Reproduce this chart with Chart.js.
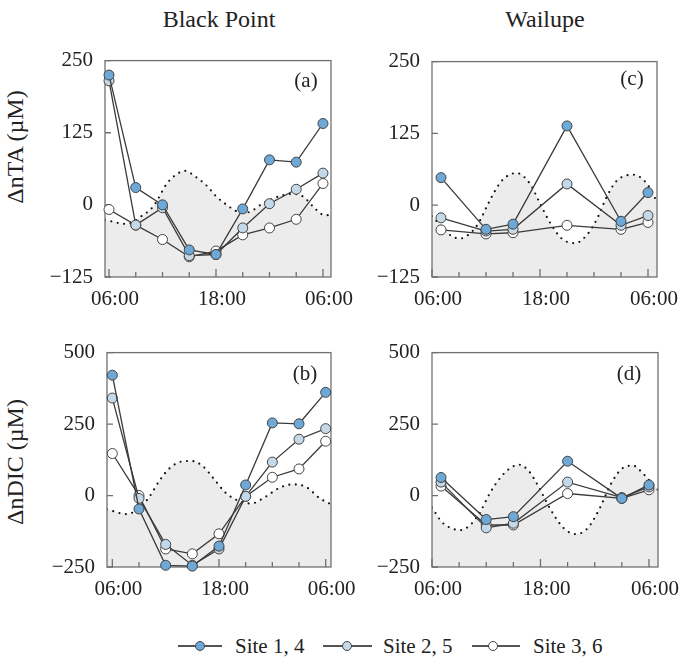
<!DOCTYPE html>
<html>
<head>
<meta charset="utf-8">
<script src="https://cdn.jsdelivr.net/npm/chart.js@4.4.1/dist/chart.umd.min.js"></script>
<style>
  html, body { margin: 0; padding: 0; background: #fff; overflow: hidden; }
  body { width: 680px; height: 661px; position: relative; font-family: "Liberation Serif", "Times New Roman", serif; color: #222; }
  canvas { position: absolute; }
  .txt { position: absolute; white-space: nowrap; transform: translate(-50%, -50%); }
  .ytitle { position: absolute; white-space: nowrap; transform: translate(-50%, -50%) rotate(-90deg); font-size: 24px; }
  .lg-line { position: absolute; height: 1.5px; background: #555; }
  .lg-dot { position: absolute; width: 8px; height: 8px; border: 1px solid #444; border-radius: 50%; }
  .lg-txt { position: absolute; font-size: 21px; transform: translateY(-50%); white-space: nowrap; }
</style>
</head>
<body>
<canvas id="pa" width="323" height="281" style="left:40px;top:36px"></canvas>
<canvas id="pb" width="321" height="279" style="left:42px;top:328px"></canvas>
<canvas id="pc" width="322" height="280" style="left:367px;top:37px"></canvas>
<canvas id="pd" width="323" height="279" style="left:367px;top:328px"></canvas>

<div class="txt" style="left:219px;top:19px;font-size:24px">Black Point</div>
<div class="txt" style="left:545px;top:19px;font-size:24px">Wailupe</div>
<div class="ytitle" style="left:15px;top:147px">ΔnTA (µM)</div>
<div class="ytitle" style="left:15px;top:462px">ΔnDIC (µM)</div>
<div class="txt" style="left:306px;top:80px;font-size:21px">(a)</div>
<div class="txt" style="left:305px;top:373px;font-size:21px">(b)</div>
<div class="txt" style="left:632px;top:78px;font-size:21px">(c)</div>
<div class="txt" style="left:629px;top:373px;font-size:21px">(d)</div>
<div id="legend"></div>

<script>
// sampling times in hours (6 = 06:00, 30 = 06:00 next day)
const hoursBP = [6, 9, 12, 15, 18, 21, 24, 27, 30];
const hoursWL = [7, 12, 15, 21, 27, 30];

// Black Point, nTA
const taBP1 = [225, 30, 0, -78, -86, -7, 78, 74, 141];
const taBP2 = [215, -35, -5, -88, -86, -40, 2, 27, 55];
const taBP3 = [-8, -35, -60, -90, -80, -52, -40, -25, 37];
// Black Point, nDIC
const dicBP1 = [421, -47, -244, -247, -177, 37, 254, 251, 361];
const dicBP2 = [341, -10, -171, -244, -187, -3, 117, 197, 234];
const dicBP3 = [147, 0, -187, -204, -134, -3, 64, 93, 190];
// Wailupe, nTA
const taWL1 = [48, -42, -33, 138, -28, 22];
const taWL2 = [-22, -45, -42, 37, -35, -18];
const taWL3 = [-43, -50, -48, -35, -42, -30];
// Wailupe, nDIC
const dicWL1 = [63, -84, -74, 120, -10, 37];
const dicWL2 = [47, -113, -97, 47, -7, 30];
const dicWL3 = [33, -103, -103, 7, -10, 20];

// tide curves (dotted, shaded underneath)
const tideHoursA = [5.55, 8, 9.7, 11, 12.5, 13.5, 14.5, 15.6, 17.1, 18, 19.2, 20.5, 21.5, 23.3, 24.4, 25.6, 26.7, 27.8, 28.9, 30, 30.9];
const tideA = [-26, -33, -19, -2, 37, 52, 59, 50, 31, 15, 0, -12, -13, 3, 11, 17, 19, 14, -3, -17, -18];
const tideHoursB = [5.4, 7.6, 9.1, 10.2, 11.3, 12.5, 13.8, 14.9, 16.2, 17.3, 18.8, 20.3, 21.6, 23.3, 24.8, 26.3, 27.8, 29.3, 30.6];
const tideB = [-48, -65, -42, -3, 52, 97, 119, 121, 102, 63, 8, -20, -28, -3, 27, 39, 30, -9, -31];
const tideHoursC = [6, 7.3, 8.2, 9.1, 10, 11.1, 12.1, 13, 13.9, 15.4, 16.9, 18, 19.1, 20.4, 21.9, 23.2, 24.3, 25.4, 26.5, 28.4, 29.9, 31];
const tideC = [-19, -41, -54, -58, -52, -33, -2, 25, 45, 56, 37, 3, -30, -58, -66, -52, -25, 14, 42, 53, 37, 6];
const tideHoursD = [6, 7.1, 8.2, 9.1, 10.2, 11.3, 12.4, 13.6, 14.7, 15.6, 16.7, 17.8, 19.1, 20.6, 21.9, 23.2, 24.5, 25.8, 26.9, 28.2, 29.4, 31];
const tideD = [-42, -93, -115, -121, -104, -59, 8, 64, 97, 108, 86, 30, -48, -115, -135, -115, -48, 41, 91, 105, 75, 19];

const labelHours = [6, 18, 30];
const labelText = ["06:00", "18:00", "06:00"];
const tickHours = [6, 9, 12, 15, 18, 21, 24, 27, 30];

const siteNames = ["Site 1, 4", "Site 2, 5", "Site 3, 6"];
const siteColors = ["#6ea8d6", "#c5d8e7", "#ffffff"];

const font = { family: "'Liberation Serif', 'Times New Roman', serif", size: 21 };

const frame = {
  id: "frame",
  afterDatasetDraw(chart, args) {
    if (args.index !== 3) return;
    const { ctx, chartArea: a, scales: { x, y } } = chart;
    ctx.save();
    ctx.strokeStyle = "#707070";
    ctx.lineWidth = 1.3;
    ctx.beginPath();
    tickHours.forEach(h => {
      const px = x.getPixelForValue(h);
      const len = labelHours.includes(h) ? 8 : 5;
      ctx.moveTo(px, a.bottom);
      ctx.lineTo(px, a.bottom - len);
    });
    y.ticks.forEach(t => {
      const py = y.getPixelForValue(t.value);
      ctx.moveTo(a.left, py);
      ctx.lineTo(a.left + 6, py);
    });
    ctx.stroke();
    ctx.strokeRect(a.left, a.top, a.right - a.left, a.bottom - a.top);
    ctx.restore();
  }
};

const pts = (xs, ys) => xs.map((h, i) => ({ x: h, y: ys[i] }));

function site(hours, vals, i) {
  return {
    label: siteNames[i],
    data: pts(hours, vals),
    borderColor: "#3a3a3a",
    borderWidth: 1.3,
    pointRadius: 5,
    pointBorderWidth: 1,
    pointBorderColor: "#444",
    pointBackgroundColor: siteColors[i],
    tension: 0,
    clip: false,
    order: i
  };
}

function panel(id, xMin, xMax, hours, s1, s2, s3, th, tv, yMin, yMax, yStep) {
  new Chart(document.getElementById(id), {
    type: "line",
    data: {
      datasets: [
        site(hours, s1, 0),
        site(hours, s2, 1),
        site(hours, s3, 2),
        {
          label: "tide",
          data: pts(th, tv),
          borderColor: "#111",
          borderWidth: 2.2,
          borderDash: [0, 6.5],
          borderCapStyle: "round",
          backgroundColor: "#ececec",
          fill: "start",
          pointRadius: 0,
          cubicInterpolationMode: "monotone",
          order: 10
        }
      ]
    },
    options: {
      responsive: false,
      animation: false,
      layout: { padding: { top: 15, right: 32, bottom: 0, left: 0 } },
      plugins: { legend: { display: false }, tooltip: { enabled: false } },
      scales: {
        x: {
          type: "linear",
          min: xMin,
          max: xMax,
          afterBuildTicks: s => { s.ticks = labelHours.map(v => ({ value: v })); },
          afterFit: s => { s.height = 40; },
          grid: { display: false, drawTicks: false },
          border: { display: false },
          ticks: {
            padding: 10,
            labelOffset: 6,
            maxRotation: 0,
            autoSkip: false,
            color: "#222",
            font: font,
            callback: (v, i) => labelText[i]
          }
        },
        y: {
          min: yMin,
          max: yMax,
          afterFit: s => { s.width = 65; },
          grid: { display: false, drawTicks: false },
          border: { display: false },
          ticks: {
            stepSize: yStep,
            padding: 12,
            color: "#222",
            font: font,
            callback: v => (v < 0 ? "\u2212" + Math.abs(v) : String(v))
          }
        }
      }
    },
    plugins: [frame]
  });
}

panel("pa", 5.55, 30.9, hoursBP, taBP1, taBP2, taBP3, tideHoursA, tideA, -125, 250, 125);
panel("pb", 5.4, 30.6, hoursBP, dicBP1, dicBP2, dicBP3, tideHoursB, tideB, -250, 500, 250);
panel("pc", 6, 31, hoursWL, taWL1, taWL2, taWL3, tideHoursC, tideC, -125, 250, 125);
panel("pd", 6, 31, hoursWL, dicWL1, dicWL2, dicWL3, tideHoursD, tideD, -250, 500, 250);

// legend
const lgY = 646;
const lgPos = [[178, 222, 200, 235], [323, 372, 347, 383], [472, 520, 493, 533]];
const legend = document.getElementById("legend");
siteNames.forEach((name, i) => {
  const [x1, x2, cx, tx] = lgPos[i];
  legend.insertAdjacentHTML("beforeend",
    `<div class="lg-line" style="left:${x1}px;width:${x2 - x1}px;top:${lgY - 0.75}px"></div>` +
    `<div class="lg-dot" style="left:${cx - 5}px;top:${lgY - 5}px;background:${siteColors[i]}"></div>` +
    `<div class="lg-txt" style="left:${tx}px;top:${lgY}px">${name}</div>`);
});
</script>
</body>
</html>
